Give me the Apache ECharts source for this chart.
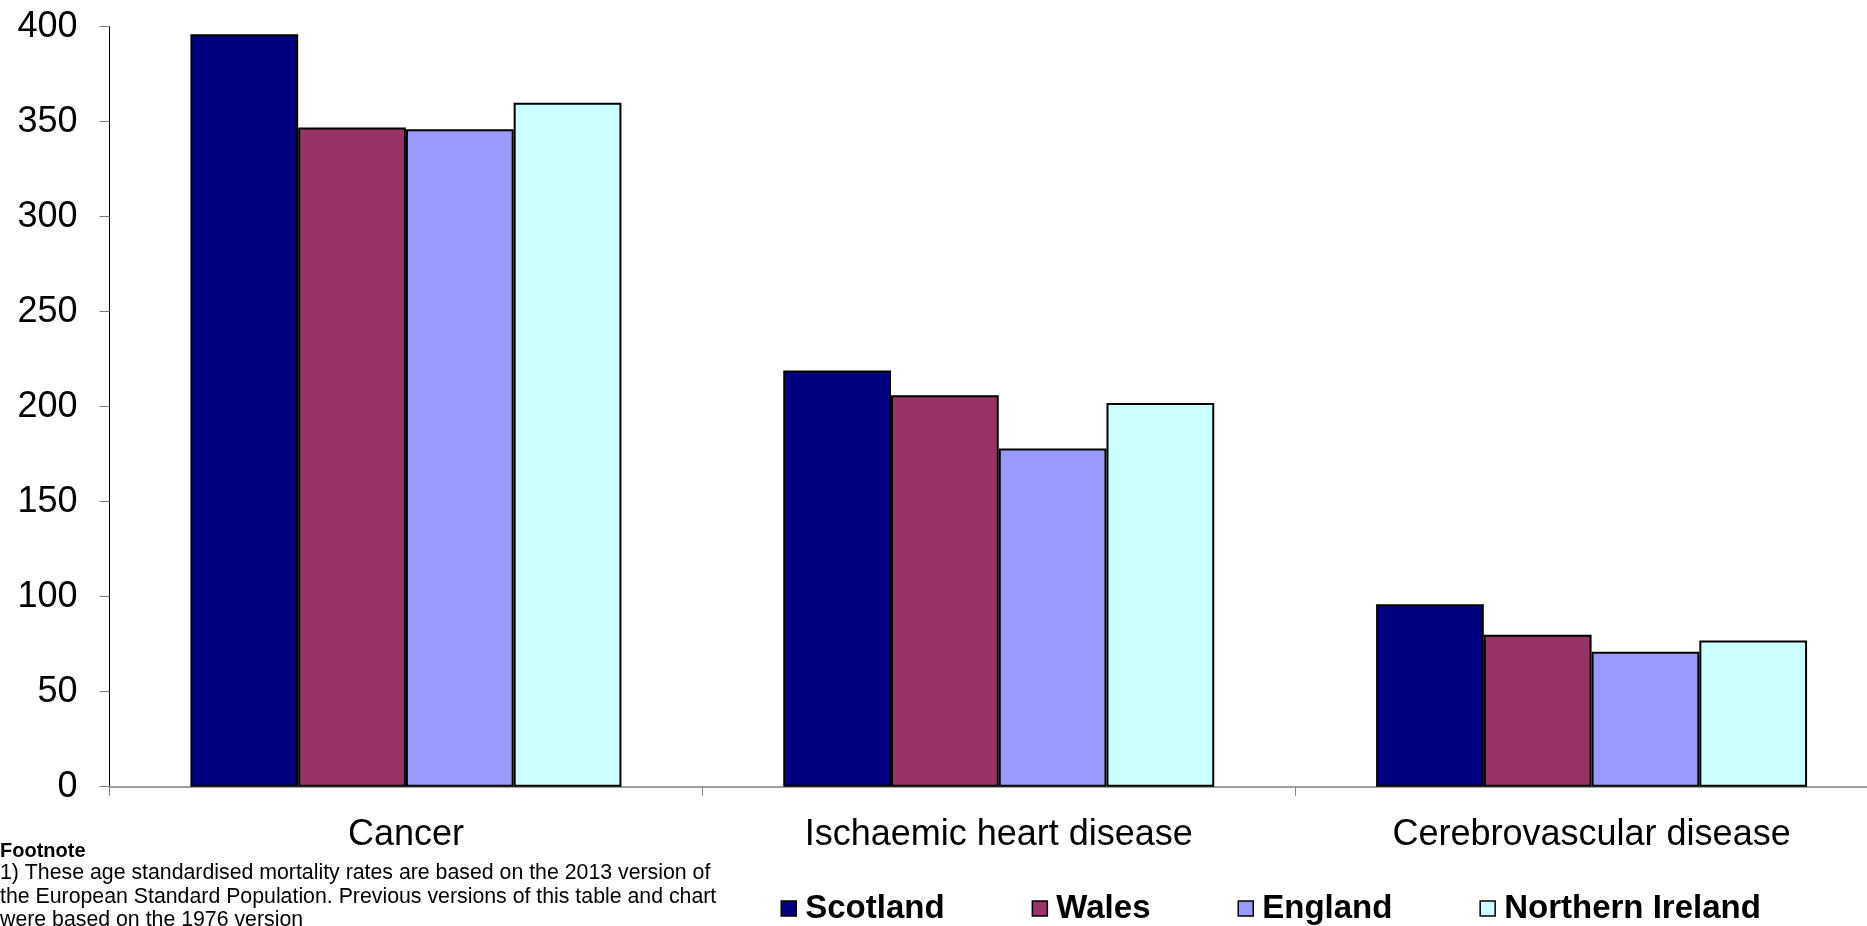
<!DOCTYPE html>
<html>
<head>
<meta charset="utf-8">
<title>Mortality rates by cause</title>
<script src="https://cdn.jsdelivr.net/npm/echarts@6/dist/echarts.min.js"></script>
<style>
  html, body { margin: 0; padding: 0; background: #fff; overflow: hidden; }
  /* 绘图区右侧被裁掉一点，所以画布比窗口宽 */
  #chart { width: 1888px; height: 926px; }
</style>
</head>
<body>
<div id="chart"></div>
<script>
// 数据
const categories = ['Cancer', 'Ischaemic heart disease', 'Cerebrovascular disease'];
const scotland = [396, 219, 96];
const wales = [347, 206, 80];
const england = [346, 178, 71];
const northernIreland = [360, 202, 77];
const yTicks = { min: 0, max: 400, interval: 50 };

const footnoteTitle = 'Footnote';
const footnoteLines = [
  '1) These age standardised mortality rates are based on the 2013 version of',
  'the European Standard Population. Previous versions of this table and chart',
  'were based on the 1976 version'
];

const FONT = '"Liberation Sans", Arial, sans-serif';

const chart = echarts.init(document.getElementById('chart'));

// 柱子样式
function barSeries(name, values, color) {
  return {
    name: name,
    type: 'bar',
    data: values,
    barGap: '0%',
    barCategoryGap: '27.3%',
    itemStyle: { color: color, borderColor: '#000', borderWidth: 2 },
    emphasis: { disabled: true }
  };
}

// 脚注文字
const footGraphics = [{
  type: 'text',
  left: 0,
  top: 841,
  style: { text: footnoteTitle, font: 'bold 20px ' + FONT, fill: '#000' }
}];
footnoteLines.forEach((line, i) => {
  footGraphics.push({
    type: 'text',
    left: 0,
    top: 863 + i * 23.5,
    style: { text: line, font: '21.3px ' + FONT, fill: '#000' }
  });
});

chart.setOption({
  backgroundColor: '#fff',
  animation: false,
  textStyle: { fontFamily: FONT },
  grid: { left: 109.5, right: 0, top: 26.7, bottom: 139.3 },
  legend: {
    left: 780.5,
    top: 892,
    padding: 0,
    itemWidth: 15,
    itemHeight: 15,
    itemGap: 87,
    icon: 'rect',
    textStyle: { fontSize: 33, fontWeight: 'bold', color: '#000', fontFamily: FONT, padding: [0, 0, 0, 4] },
    itemStyle: { borderColor: '#000', borderWidth: 1.5 },
    data: ['Scotland', 'Wales', 'England', 'Northern Ireland']
  },
  xAxis: {
    type: 'category',
    data: categories,
    axisLine: { lineStyle: { color: '#808080', width: 1.5 } },
    axisTick: { show: true, length: 9, lineStyle: { color: '#808080' } },
    axisLabel: { fontSize: 36, color: '#000', margin: 30, fontFamily: FONT }
  },
  yAxis: {
    type: 'value',
    min: yTicks.min,
    max: yTicks.max,
    interval: yTicks.interval,
    axisLine: { show: true, lineStyle: { color: '#000', width: 1 } },
    axisTick: { show: true, length: 10, lineStyle: { color: '#808080' } },
    splitLine: { show: false },
    axisLabel: { fontSize: 36, color: '#000', margin: 32, fontFamily: FONT }
  },
  graphic: footGraphics,
  series: [
    barSeries('Scotland', scotland, '#000080'),
    barSeries('Wales', wales, '#993366'),
    barSeries('England', england, '#9999FF'),
    barSeries('Northern Ireland', northernIreland, '#CCFFFF')
  ]
});

window.addEventListener('resize', () => chart.resize());
</script>
</body>
</html>
